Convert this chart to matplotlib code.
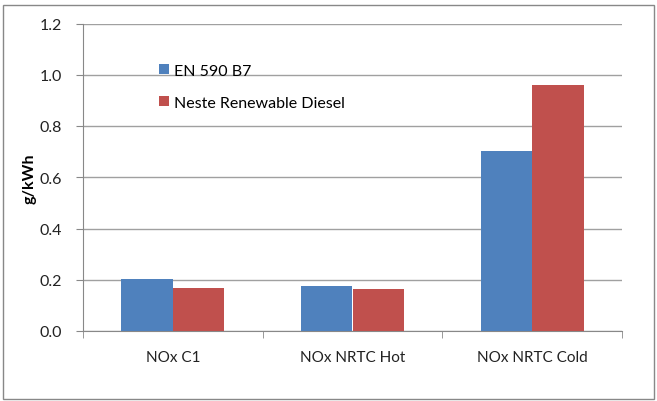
import matplotlib.pyplot as plt
import numpy as np
from matplotlib.patches import Rectangle

categories = ["NOx C1", "NOx NRTC Hot", "NOx NRTC Cold"]
series_names = ["EN 590 B7", "Neste Renewable Diesel"]
en590 = [0.203, 0.175, 0.703]
neste = [0.167, 0.165, 0.959]
yticks = [0.0, 0.2, 0.4, 0.6, 0.8, 1.0, 1.2]
ytick_labels = ["0.0", "0.2", "0.4", "0.6", "0.8", "1.0", "1.2"]

plt.rcParams['font.family'] = ['Lato', 'DejaVu Sans']

fig = plt.figure(figsize=(6.57, 4.02), dpi=100)
fig.patches.append(Rectangle((3/657, 2/402), 651/657, 394/402, transform=fig.transFigure,
                             fill=False, edgecolor='#888888', linewidth=1.0))
ax = fig.add_axes([83/657, 1-332/402, 539/657, (332-24.5)/402])

x = np.arange(len(categories))
w = 0.286
blue = '#4F81BD'
red = '#C0504D'
ax.bar(x - w/2, en590, w, color=blue, label=series_names[0], zorder=3)
ax.bar(x + w/2, neste, w, color=red, label=series_names[1], zorder=3)

ax.set_xlim(-0.5, 2.5)
ax.set_ylim(0, 1.2)
ax.set_yticks(yticks)
ax.set_yticklabels(ytick_labels, fontsize=11.5, color='#222222')
ax.yaxis.grid(True, color='#a0a0a0', linewidth=1.0, zorder=0)
ax.set_axisbelow(True)

ax.set_xticks(x)
ax.set_xticklabels(categories, fontsize=11, color='#222222')
ax.tick_params(axis='x', length=0, pad=14)
ax.set_xticks([-0.5, 0.5, 1.5, 2.5], minor=True)
ax.tick_params(axis='x', which='minor', length=5, color='#888888', direction='out')
ax.tick_params(axis='y', length=5, color='#888888', pad=10)

for s in ['top', 'right']:
    ax.spines[s].set_visible(False)
for s in ['left', 'bottom']:
    ax.spines[s].set_color('#888888')

ax.set_ylabel("g/kWh", fontsize=11.5, fontweight='bold', labelpad=2)

leg = ax.legend(loc='upper left', bbox_to_anchor=(0.115, 0.915), frameon=False,
                fontsize=11.5, handlelength=0.6, handleheight=0.6, handletextpad=0.3,
                labelspacing=1.1)

fig.savefig("out.png", dpi=100)
